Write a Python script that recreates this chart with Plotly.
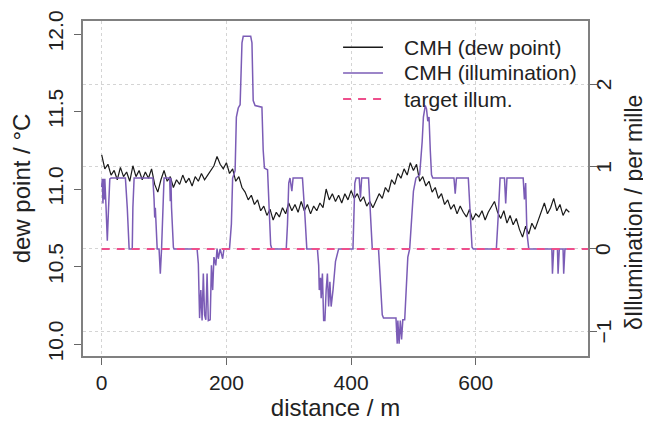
import plotly.graph_objects as go

# ---- data ----
dew_distance = list(range(0, 751, 5))  # m
dew_point = [
    11.22, 11.13, 11.16, 11.09, 11.12, 11.06, 11.14, 11.08, 11.11, 11.05,
    11.15, 11.08, 11.12, 11.06, 11.11, 11.07, 11.13, 11.03, 10.98, 11.06,
    11.12, 11.05, 11.08, 11.01, 11.06, 11.03, 11.09, 11.04, 11.07, 11.02,
    11.08, 11.05, 11.10, 11.06, 11.09, 11.12, 11.15, 11.21, 11.16, 11.13,
    11.17, 11.10, 11.13, 11.05, 11.08, 11.01, 10.98, 10.93, 10.96, 10.90,
    10.93, 10.86, 10.89, 10.83, 10.87, 10.80, 10.85, 10.82, 10.88, 10.84,
    10.91, 10.86, 10.90, 10.85, 10.92, 10.86, 10.90, 10.84, 10.89, 10.86,
    10.91, 10.88, 11.00, 10.93, 10.97, 10.92, 10.96, 10.91, 10.97, 10.93,
    10.99, 10.94, 10.97, 10.92, 10.95, 10.89, 10.92, 10.88, 10.93, 10.97,
    10.94, 11.01, 10.98, 11.06, 11.03, 11.10, 11.07, 11.13, 11.09, 11.17,
    11.12, 11.16, 11.05, 11.08, 11.02, 11.05, 10.98, 11.01, 10.94, 10.97,
    10.90, 10.93, 10.87, 10.90, 10.84, 10.89, 10.85, 10.82, 10.87, 10.80,
    10.84, 10.82, 10.86, 10.80, 10.85, 10.89, 10.92, 10.85, 10.81, 10.86,
    10.78, 10.83, 10.77, 10.81, 10.74, 10.69, 10.76, 10.71, 10.78, 10.74,
    10.80, 10.86, 10.91, 10.84, 10.88, 10.94, 10.86, 10.90, 10.83, 10.87,
    10.85,
]

illum_distance = [
    0, 1, 2, 3, 4, 5, 7, 9, 11, 13, 15, 38, 41, 43, 44, 49, 50, 52,
    82, 84, 85, 86, 88, 89, 92, 94, 96, 98, 100, 109, 110, 111, 112, 115, 116,
    153, 155, 157, 159, 161, 163, 165, 167, 169, 171, 174, 176, 178, 180,
    183, 185, 187, 190, 194, 196, 205, 208, 210, 214, 216, 219, 222, 225, 227,
    239, 241, 243, 246, 257, 259, 261, 266, 268, 271, 273,
    296, 298, 300, 302, 305, 307, 322, 326, 329,
    346, 348, 349, 351, 352, 354, 356, 358, 360, 362, 364, 366, 368, 371, 375, 380,
    403, 406, 408, 413, 415, 417, 428, 431, 434,
    444, 446, 448, 450, 452, 472, 474, 475, 477, 479, 481, 483, 486, 488, 491, 494,
    496, 500, 504, 510, 514, 516, 519, 521, 523, 525, 527, 529, 531,
    565, 567, 569, 588, 591, 594, 596,
    633, 636, 639, 646, 648, 650, 676, 678, 680, 682, 685,
    722, 723, 725, 731, 732, 734, 740, 741, 743, 748,
]
illumination = [
    0.75, 0.85, 0.55, 0.85, 0.60, 0.85, 0.50, 0.10, 0.50, 0.85, 0.86, 0.86, 0.50, 0.02, 0.0, 0.0, 0.50, 0.86,
    0.86, 0.60, 0.38, 0.50, 0.10, 0.0, 0.0, -0.30, 0.0, 0.60, 0.86, 0.86, 0.58, 0.86, 0.50, 0.02, 0.0,
    0.0, -0.18, -0.84, -0.50, -0.87, -0.30, -0.80, -0.86, -0.30, -0.87, -0.86, -0.20, -0.50, -0.10,
    -0.20, 0.0, -0.12, 0.0, -0.12, 0.0, 0.0, 0.30, 0.86, 0.95, 1.60, 1.71, 1.75, 2.50, 2.58,
    2.58, 2.50, 1.80, 1.74, 1.72, 1.20, 0.98, 0.96, 0.60, 0.05, 0.0,
    0.0, 0.30, 0.80, 0.86, 0.70, 0.86, 0.86, 0.40, 0.0,
    0.0, -0.20, -0.50, -0.35, -0.60, -0.30, -0.87, -0.87, -0.50, -0.30, -0.70, -0.40, -0.70, -0.50, -0.15, 0.0,
    0.0, 0.80, 0.86, 0.86, 0.62, 0.86, 0.86, 0.50, 0.0,
    0.0, -0.30, -0.60, -0.80, -0.84, -0.84, -1.15, -0.87, -1.15, -0.87, -1.10, -0.86, -0.86, -0.60, -0.10, 0.0,
    0.20, 0.70, 0.86, 0.90, 1.30, 1.60, 1.74, 1.70, 1.55, 1.60, 1.20, 0.90, 0.86,
    0.86, 0.67, 0.86, 0.86, 0.40, 0.02, 0.0,
    0.0, 0.40, 0.86, 0.86, 0.55, 0.86, 0.86, 0.60, 0.80, 0.20, 0.0,
    0.0, -0.30, 0.0, 0.0, -0.30, 0.0, 0.0, -0.30, 0.0, 0.0,
]

target_distance = [0, 780]
target_illum = [0, 0]

x_ticks = [0, 200, 400, 600]
y_ticks = [10.0, 10.5, 11.0, 11.5, 12.0]
y_ticklabels = ["10.0", "10.5", "11.0", "11.5", "12.0"]
y2_ticks = [-1, 0, 1, 2]
y2_ticklabels = ["\u22121", "0", "1", "2"]

series_names = ["CMH (dew point)", "CMH (illumination)", "target illum."]
series_colors = ["#1a1a1a", "#7b5cb6", "#ee4f8c"]
series_widths = [1.2, 1.5, 2]
series_dash = ["solid", "solid", "8px,7px"]

FONT = "Liberation Sans, Arial, Helvetica, sans-serif"
FS = 21      # tick labels and legend
FS_T = 24    # axis titles
FS_R = 23    # right-hand title

fig = go.Figure()
fig.add_trace(go.Scatter(
    x=dew_distance, y=dew_point, mode="lines", name=series_names[0],
    line=dict(color=series_colors[0], width=series_widths[0]), yaxis="y",
    showlegend=False,
))
fig.add_trace(go.Scatter(
    x=illum_distance, y=illumination, mode="lines", name=series_names[1],
    line=dict(color=series_colors[1], width=series_widths[1]), yaxis="y2",
    showlegend=False,
))
fig.add_trace(go.Scatter(
    x=target_distance, y=target_illum, mode="lines", name=series_names[2],
    line=dict(color=series_colors[2], width=series_widths[2], dash=series_dash[2]), yaxis="y2",
    showlegend=False,
))

# legend drawn in paper coordinates (top right, no frame)
leg_x0, leg_x1, leg_tx = 0.515, 0.594, 0.632
leg_rows = [0.922, 0.845, 0.767]
shapes = []
annotations = []
for name, col, w, dsh, yy in zip(series_names, series_colors, series_widths, series_dash, leg_rows):
    shapes.append(dict(type="line", xref="paper", yref="paper",
                       x0=leg_x0, x1=leg_x1, y0=yy, y1=yy,
                       line=dict(color=col, width=max(w, 1.5), dash=dsh)))
    annotations.append(dict(xref="paper", yref="paper", x=leg_tx, y=yy,
                            xanchor="left", yanchor="middle", showarrow=False,
                            text=name, font=dict(family=FONT, size=FS, color="#222")))

# right-hand tick labels (placed on the y2 scale, closer to the axis than plotly's default)
for val, lab in zip(y2_ticks, y2_ticklabels):
    annotations.append(dict(xref="paper", yref="y2", x=1.030, y=val,
                            xanchor="center", yanchor="middle", showarrow=False, textangle=-90,
                            text=lab, font=dict(family=FONT, size=FS, color="#222")))

# right-hand axis title
annotations.append(dict(xref="paper", yref="paper", x=1.091, y=0.43,
                        xanchor="center", yanchor="middle", showarrow=False, textangle=-90,
                        text="δIllumination / per mille",
                        font=dict(family=FONT, size=FS_R, color="#222")))

axis_common = dict(
    showline=True, linecolor="#808080", linewidth=1.5,
    ticks="outside", ticklen=7, tickwidth=1.3, tickcolor="#666",
    tickfont=dict(family=FONT, size=FS, color="#222"),
    zeroline=False, automargin=False,
)

# page body has an 8px default margin, so the figure is 8px smaller
fig.update_layout(
    width=643, height=415,
    paper_bgcolor="white", plot_bgcolor="white",
    margin=dict(l=75, r=63, t=13, b=67),
    font=dict(family=FONT, size=FS, color="#222"),
    showlegend=False,
    shapes=shapes,
    annotations=annotations,
    xaxis=dict(
        range=[-30, 780], tickvals=x_ticks, mirror=True,
        showgrid=True, gridcolor="#d4d4d4", griddash="dot", gridwidth=1,
        title=dict(text="distance / m", font=dict(family=FONT, size=FS_T, color="#222"), standoff=4),
        **axis_common,
    ),
    yaxis=dict(
        range=[9.923, 12.084], tickvals=y_ticks, ticktext=y_ticklabels,
        tickangle=-90, showgrid=False, ticklabelstandoff=3,
        title=dict(text="dew point / °C", font=dict(family=FONT, size=FS_T, color="#222"), standoff=6),
        **axis_common,
    ),
    yaxis2=dict(
        range=[-1.30, 2.766], tickvals=y2_ticks, showticklabels=False,
        overlaying="y", side="right",
        showgrid=True, gridcolor="#d4d4d4", griddash="dot", gridwidth=1,
        **axis_common,
    ),
)

fig.write_html("out.html")
